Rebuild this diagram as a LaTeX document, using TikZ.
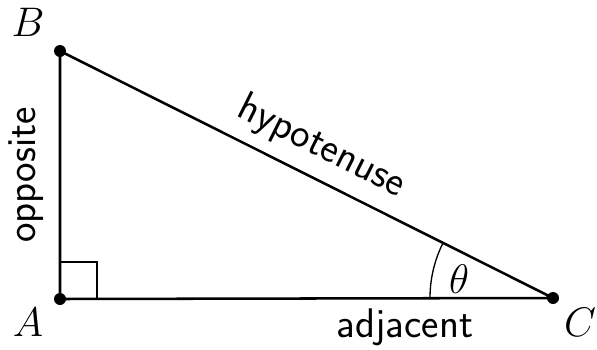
\RequirePackage{fix-cm}
\documentclass[tikz,border=0pt]{standalone}
\usetikzlibrary{positioning,calc}
\tikzset{
	side/.style={line width=1.9},
	vertex/.style={circle,fill=black,inner sep=0pt,minimum size=9},
	lbl/.style={font=\fontsize{31}{36}\selectfont},
	word/.style={font=\fontsize{31}{36}\selectfont\sffamily}
}
\begin{document}
\begin{tikzpicture}[x=0.75pt,y=0.75pt,yscale=-1,xscale=1]
	\useasboundingbox (0,0) rectangle (597,350);
	
	% corners
	\coordinate (A) at (60,299);
	\coordinate (B) at (60,51);
	\coordinate (C) at (553,298);
	
	% right angle mark
	\draw [line width=1] ($(A)+(0,-37)$) -| ($(A)+(37,0)$);
	% angle arc at C
	\draw [line width=1] ($(C)+(-123,0)$) arc [start angle=180, end angle=206.6, radius=123];
	
	% sides
	\draw [side] (A) -- (B) -- (C) -- cycle;
	\node [vertex] (dA) at (A) {};
	\node [vertex] (dB) at (B) {};
	\node [vertex] (dC) at (C) {};
	
	% Text Node
	\node [lbl] (lB) at (28,22) {$B$};
	\node [lbl] (lA) at (28,322) {$A$};
	\node [lbl] (lC) at (580,322) {$C$};
	\node [lbl] (th) at (459,279) {$\theta$};
	% Text Node
	\node [word, rotate=90] (opp) at (26,175) {opposite};
	\node [word] (adj) at (405,327) {adjacent};
	\node [word, rotate=-26.6] (hyp) at (321,147) {hypotenuse};
	
\end{tikzpicture}
\end{document}
